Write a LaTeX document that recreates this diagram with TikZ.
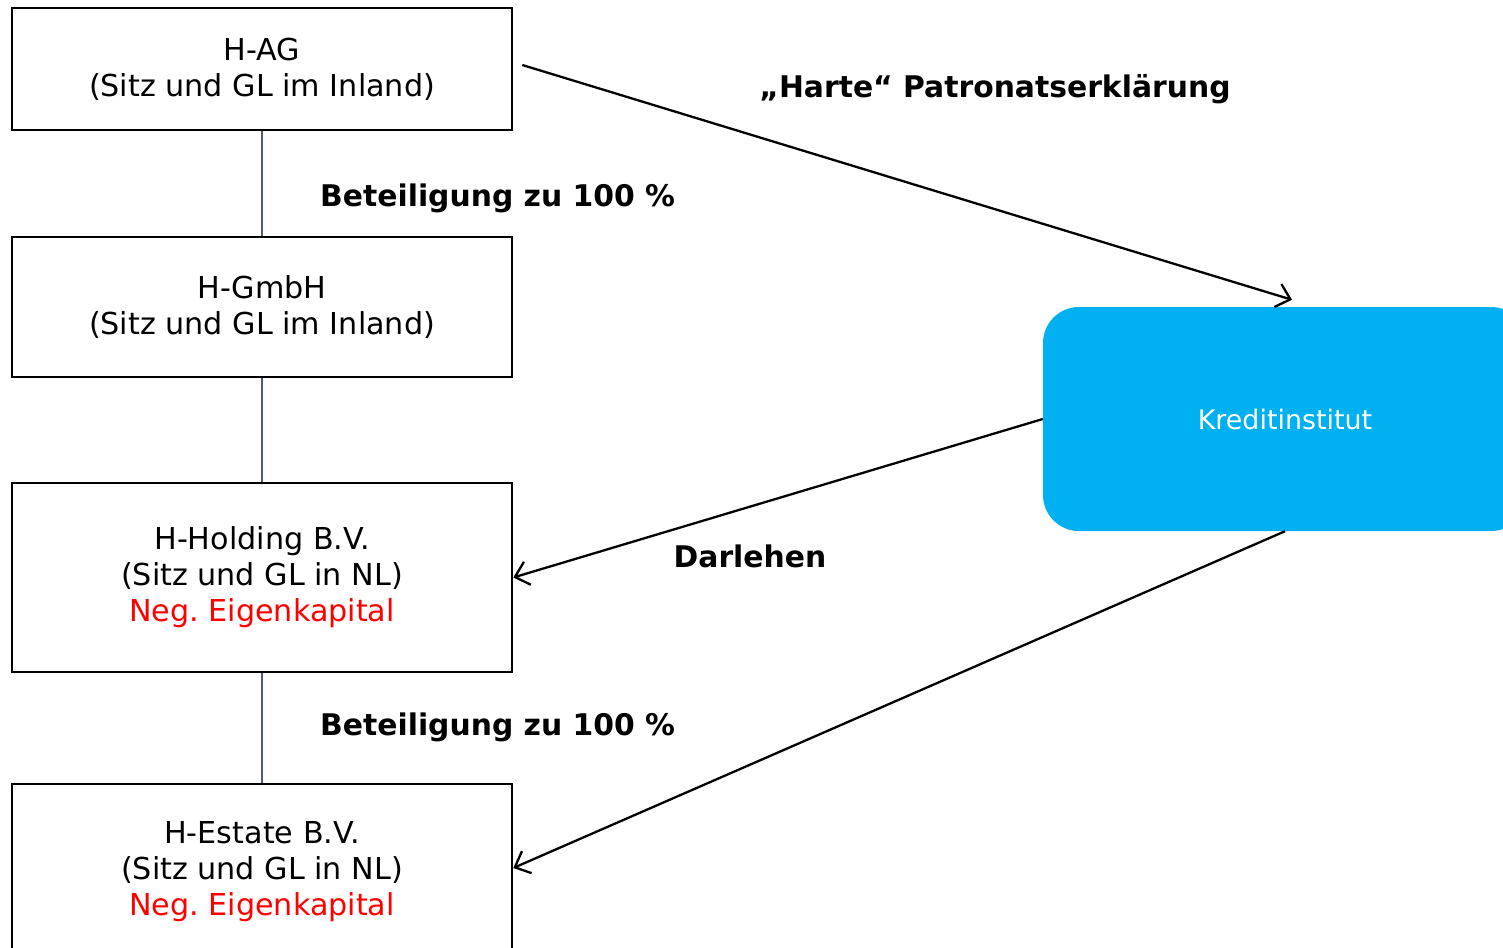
\documentclass[tikz,border=0pt]{standalone}
\usepackage{fontspec}
\setmainfont{DejaVu Sans}
\usetikzlibrary{arrows.meta,calc}
\definecolor{kblue}{HTML}{00B0F0}
\definecolor{negred}{HTML}{FF0000}
\definecolor{linkgrey}{HTML}{4F5B73}
\tikzset{
  entity/.style={draw=black, line width=2.6pt, minimum width=500pt, align=center,
    font=\fontsize{30.2}{36}\selectfont, inner sep=0pt},
  bank/.style={fill=kblue, draw=none, rounded corners=36pt, minimum width=484pt,
    minimum height=224pt, text=white, font=\fontsize{26.9}{32}\selectfont},
  link/.style={draw=linkgrey, line width=1.5pt},
  rel/.style={draw=black, line width=2.3pt, -{Straight Barb[length=13pt,width=24pt,line width=2.3pt]}},
  lbl/.style={font=\bfseries\fontsize{29.8}{36}\selectfont, inner sep=0pt}
}
\begin{document}
\frenchspacing
\begin{tikzpicture}[x=1pt,y=-1pt]
\useasboundingbox (0,0) rectangle (1503,947);
\begin{scope}
\clip (0,0) rectangle (1503,947);
\node[entity, minimum height=122pt] (hag) at (262,69) {H-AG\\(Sitz und GL im Inland)};
\node[entity, minimum height=140pt] (hgmbh) at (262,307) {H-GmbH\\(Sitz und GL im Inland)};
\node[entity, minimum height=189pt] (hold) at (262,577.5) {H-Holding B.V.\\(Sitz und GL in NL)\\\textcolor{negred}{Neg. Eigenkapital}};
\node[entity, minimum height=176pt] (est) at (262,872) {H-Estate B.V.\\(Sitz und GL in NL)\\\textcolor{negred}{Neg. Eigenkapital}};
\node[bank] (kredit) at (1285,419) {Kreditinstitut};

\draw[link] (hag.south) -- (hgmbh.north);
\draw[link] (hgmbh.south) -- (hold.north);
\draw[link] (hold.south) -- (est.north);

\draw[rel] ($(hag.east)+(9,-4)$) -- ($(kredit.north)+(7,-7)$);
\draw[rel] (kredit.west) -- (hold.east);
\draw[rel] (kredit.south) -- ($(est.east)+(0,-4)$);

\node[lbl, anchor=west] (bet1) at (320,198) {Beteiligung zu 100 \%};
\node[lbl, anchor=west] (bet2) at (320,727) {Beteiligung zu 100 \%};
\node[lbl] (harte) at (995,89) {„Harte“ Patronatserklärung};
\node[lbl] (darl) at (750,556) {Darlehen};
\end{scope}
\end{tikzpicture}
\end{document}
